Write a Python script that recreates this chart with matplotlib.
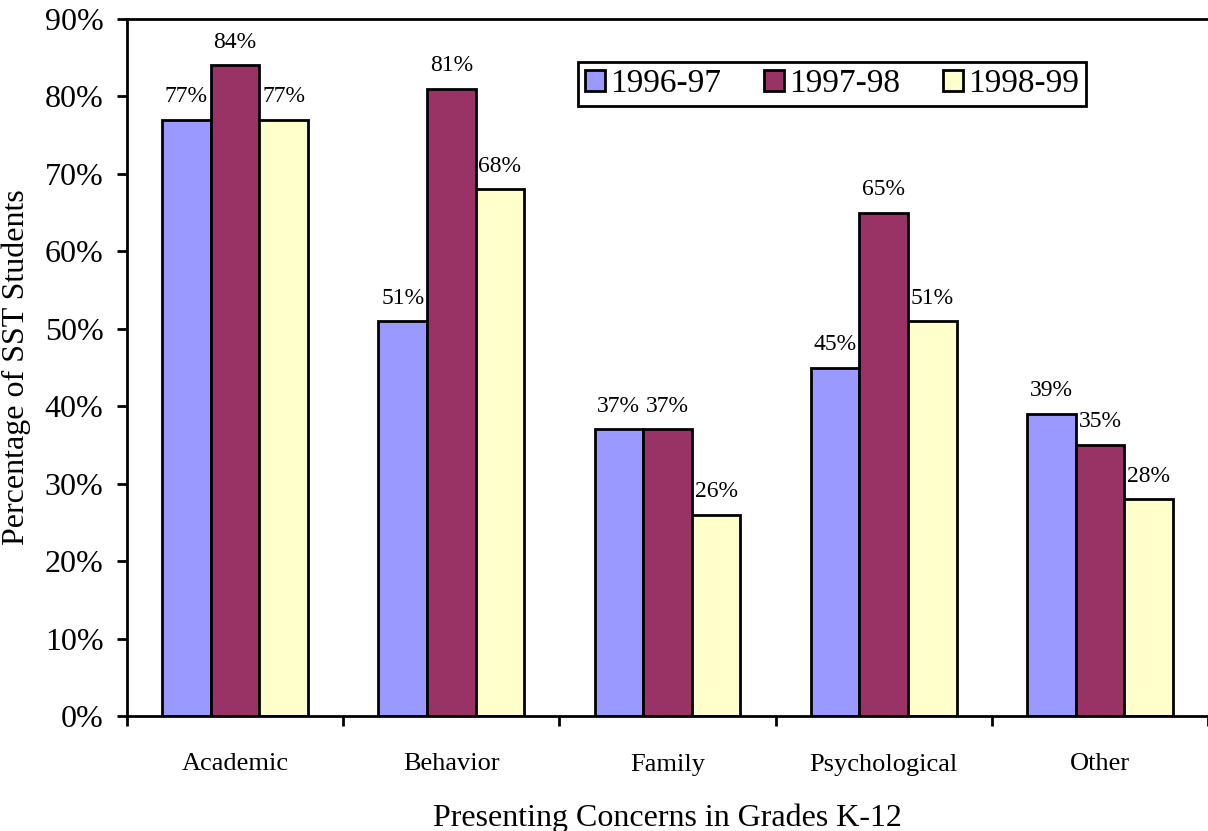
import numpy as np
import matplotlib.pyplot as plt

plt.rcParams['font.family'] = ['Liberation Serif', 'DejaVu Serif']

categories = ['Academic', 'Behavior', 'Family', 'Psychological', 'Other']
series = ['1996-97', '1997-98', '1998-99']
v9697 = [77, 51, 37, 45, 39]
v9798 = [84, 81, 37, 65, 35]
v9899 = [77, 68, 26, 51, 28]
colors = ['#9999FF', '#993366', '#FFFFCC']

fig = plt.figure(figsize=(12.08, 8.31), dpi=100)
ax = fig.add_axes([127 / 1208, 1 - 716 / 831, 1 - 127 / 1208, (716 - 19) / 831])

x = np.arange(len(categories))
w = 0.225
for i, (vals, name) in enumerate(zip([v9697, v9798, v9899], series)):
    pos = x + (i - 1) * w
    bars = ax.bar(pos, vals, w, color=colors[i], edgecolor='black', linewidth=2, label=name, zorder=2)
    for b, v in zip(bars, vals):
        ax.annotate(f'{v}%', (b.get_x() + b.get_width() / 2, v), xytext=(0, 9),
                    textcoords='offset points', ha='center', va='bottom', fontsize=17)

ax.set_xlim(-0.5, -0.5 + 1081 / 217)
ax.set_ylim(0, 90)
ax.set_yticks(range(0, 91, 10))
ax.set_yticklabels([f'{t}%' for t in range(0, 91, 10)], fontsize=23)
ax.set_xticks(np.arange(-0.5, 4.6, 1))
ax.set_xticklabels([])
ax.set_xticks(x, minor=True)
ax.set_xticklabels(categories, minor=True, fontsize=19)
ax.tick_params(axis='x', which='minor', length=0, pad=27)
ax.tick_params(axis='x', which='major', length=7, width=2, direction='out')
ax.tick_params(axis='y', length=7, width=2, direction='out', pad=10)
for s in ['left', 'bottom', 'top']:
    ax.spines[s].set_linewidth(2)
ax.spines['right'].set_visible(False)

ax.set_ylabel('Percentage of SST Students', fontsize=23, labelpad=10)
ax.set_xlabel('Presenting Concerns in Grades K-12', fontsize=23, labelpad=20)

leg = ax.legend(loc='upper left', bbox_to_anchor=(451 / 1081, 1 - 43 / 697), ncol=3,
                fontsize=24, frameon=True, fancybox=False, edgecolor='black',
                handlelength=0.6, handleheight=0.6, handletextpad=0.15,
                columnspacing=1.3, borderpad=0.2, borderaxespad=0)
leg.get_frame().set_linewidth(2)
leg.get_frame().set_alpha(1)

fig.savefig('out.png', dpi=100)
